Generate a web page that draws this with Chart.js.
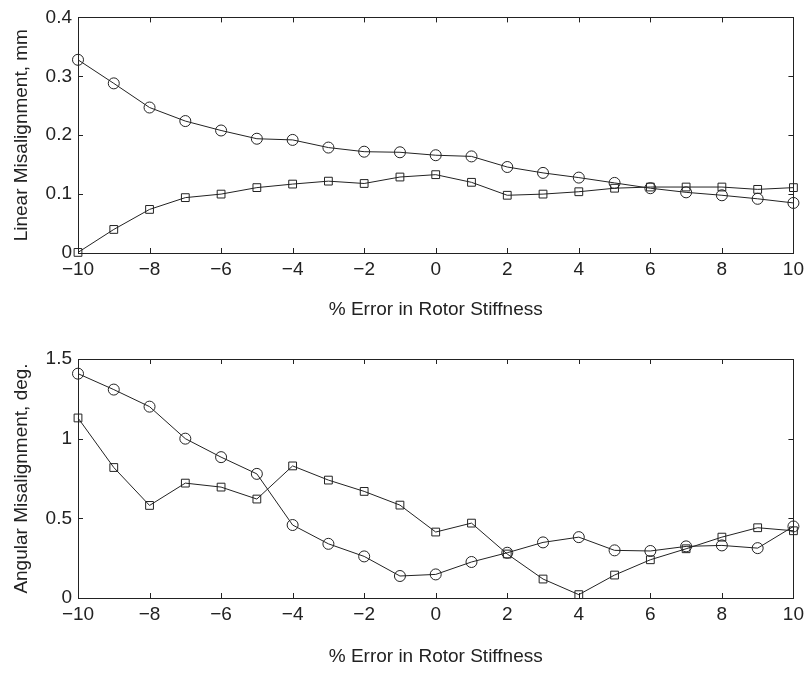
<!DOCTYPE html>
<html>
<head>
<meta charset="utf-8">
<script src="https://cdn.jsdelivr.net/npm/chart.js@4"></script>
<style>
  html, body { margin: 0; padding: 0; background: #fff; }
  .panel { position: absolute; left: 0; width: 809px; }
  #topPanel { top: 0; height: 336px; }
  #bottomPanel { top: 336px; height: 337px; }
</style>
</head>
<body>
<div class="panel" id="topPanel"><canvas id="linearChart"></canvas></div>
<div class="panel" id="bottomPanel"><canvas id="angularChart"></canvas></div>
<script>
// % error in rotor stiffness (x values, shared by both plots)
const stiffnessError = [-10, -9, -8, -7, -6, -5, -4, -3, -2, -1, 0, 1, 2, 3, 4, 5, 6, 7, 8, 9, 10];

// Linear misalignment, mm
const linearCircle = [0.328, 0.288, 0.247, 0.224, 0.208, 0.194, 0.192, 0.179, 0.172, 0.171, 0.166,
                      0.164, 0.146, 0.136, 0.128, 0.119, 0.110, 0.103, 0.098, 0.092, 0.085];
const linearSquare = [0.001, 0.040, 0.074, 0.094, 0.100, 0.111, 0.117, 0.122, 0.118, 0.129, 0.133,
                      0.120, 0.098, 0.100, 0.104, 0.110, 0.112, 0.112, 0.112, 0.108, 0.111];

// Angular misalignment, deg.
const angularCircle = [1.408, 1.308, 1.201, 1.000, 0.884, 0.779, 0.458, 0.340, 0.261, 0.138, 0.148,
                       0.226, 0.284, 0.349, 0.382, 0.299, 0.295, 0.324, 0.330, 0.313, 0.449];
const angularSquare = [1.130, 0.819, 0.581, 0.721, 0.696, 0.621, 0.829, 0.740, 0.669, 0.583, 0.414,
                       0.470, 0.276, 0.119, 0.021, 0.144, 0.240, 0.309, 0.382, 0.441, 0.422];

const xTicks = [-10, -8, -6, -4, -2, 0, 2, 4, 6, 8, 10];
const linearTicks = [0, 0.1, 0.2, 0.3, 0.4];
const angularTicks = [0, 0.5, 1, 1.5];

const ink = '#222';
const fontFamily = '"Liberation Sans", Arial, Helvetica, sans-serif';
const fontSize = 19;

// MATLAB style box with inward ticks on all four sides
const boxTicks = {
    id: 'boxTicks',
    afterDraw(chart) {
        const ctx = chart.ctx;
        const a = chart.chartArea;
        const xs = chart.scales.x;
        const ys = chart.scales.y;
        const len = 5;
        ctx.save();
        ctx.strokeStyle = ink;
        ctx.lineWidth = 1;
        ctx.beginPath();
        xs.ticks.forEach(t => {
            const px = Math.round(xs.getPixelForValue(t.value)) + 0.5;
            ctx.moveTo(px, a.bottom); ctx.lineTo(px, a.bottom - len);
            ctx.moveTo(px, a.top); ctx.lineTo(px, a.top + len);
        });
        ys.ticks.forEach(t => {
            const py = Math.round(ys.getPixelForValue(t.value)) + 0.5;
            ctx.moveTo(a.left, py); ctx.lineTo(a.left + len, py);
            ctx.moveTo(a.right, py); ctx.lineTo(a.right - len, py);
        });
        ctx.stroke();
        ctx.strokeRect(Math.round(a.left) + 0.5, Math.round(a.top) + 0.5,
                       Math.round(a.right - a.left), Math.round(a.bottom - a.top));
        ctx.restore();
    }
};

function toPoints(ys) {
    return stiffnessError.map((x, i) => ({ x: x, y: ys[i] }));
}

function series(values, style, radius) {
    return {
        data: toPoints(values),
        borderColor: ink,
        borderWidth: 1,
        pointStyle: style,
        pointRadius: radius,
        pointBorderColor: ink,
        pointBackgroundColor: 'rgba(0,0,0,0)',
        pointBorderWidth: 1,
        tension: 0,
        clip: false
    };
}

function minusLabel(v) {
    return v < 0 ? '\u2212' + Math.abs(v) : String(v);
}

function makeChart(canvasId, circles, squares, yTicks, yTitle, opts) {
    const ctx = document.getElementById(canvasId).getContext('2d');
    return new Chart(ctx, {
        type: 'line',
        data: {
            datasets: [series(circles, 'circle', 5.5), series(squares, 'rect', 5.5)]
        },
        options: {
            responsive: true,
            maintainAspectRatio: false,
            animation: false,
            layout: { padding: { left: 0, right: 14, top: opts.top, bottom: 0 } },
            plugins: { legend: { display: false }, tooltip: { enabled: false } },
            scales: {
                x: {
                    type: 'linear',
                    min: -10,
                    max: 10,
                    afterBuildTicks: s => { s.ticks = xTicks.map(v => ({ value: v })); },
                    afterFit: s => { s.height = opts.xHeight; },
                    grid: { display: false, drawTicks: false },
                    border: { display: false },
                    ticks: {
                        padding: 5,
                        color: ink,
                        maxRotation: 0,
                        autoSkip: false,
                        font: { family: fontFamily, size: fontSize },
                        callback: v => minusLabel(v)
                    },
                    title: {
                        display: true,
                        text: '% Error in Rotor Stiffness',
                        color: ink,
                        font: { family: fontFamily, size: fontSize },
                        padding: { top: 0, bottom: opts.titlePad }
                    }
                },
                y: {
                    min: yTicks[0],
                    max: yTicks[yTicks.length - 1],
                    afterBuildTicks: s => { s.ticks = yTicks.map(v => ({ value: v })); },
                    afterFit: s => { s.width = 78; },
                    grid: { display: false, drawTicks: false },
                    border: { display: false },
                    ticks: {
                        padding: 6,
                        color: ink,
                        autoSkip: false,
                        font: { family: fontFamily, size: fontSize },
                        callback: v => String(Number(v.toFixed(2)))
                    },
                    title: {
                        display: true,
                        text: yTitle,
                        color: ink,
                        font: { family: fontFamily, size: fontSize },
                        padding: { top: 10, bottom: 0 }
                    }
                }
            }
        },
        plugins: [boxTicks]
    });
}

makeChart('linearChart', linearCircle, linearSquare, linearTicks, 'Linear Misalignment, mm',
          { top: 14, xHeight: 83, titlePad: 15 });
makeChart('angularChart', angularCircle, angularSquare, angularTicks, 'Angular Misalignment, deg.',
          { top: 23, xHeight: 75, titlePad: 5 });
</script>
</body>
</html>
